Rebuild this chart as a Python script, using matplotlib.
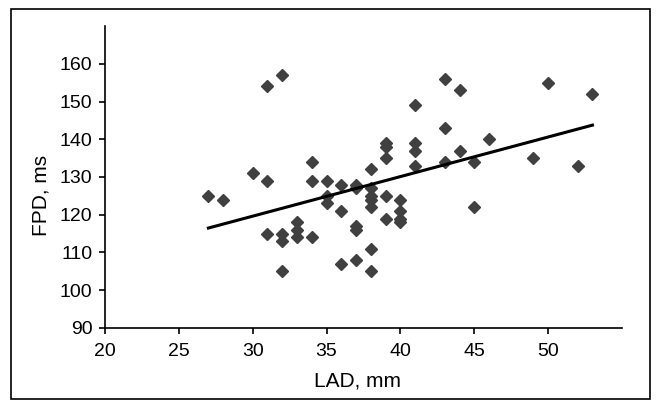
import numpy as np
import matplotlib.pyplot as plt
from matplotlib.patches import Rectangle

plt.rcParams['font.family'] = ['Liberation Sans', 'DejaVu Sans']

# LAD (mm) and FPD (ms)
lad = [27, 28, 30, 31, 31, 31, 32, 32, 32, 32, 33, 33, 33, 34, 34, 34,
       35, 35, 35, 36, 36, 36, 37, 37, 37, 37, 37, 38, 38, 38, 38, 38,
       38, 38, 39, 39, 39, 39, 39, 40, 40, 40, 40, 41, 41, 41, 41, 43,
       43, 43, 44, 44, 45, 45, 46, 49, 50, 52, 53]
fpd = [125, 124, 131, 154, 129, 115, 157, 115, 113, 105, 118, 116, 114, 134, 129, 114,
       129, 125, 123, 128, 121, 107, 128, 127, 117, 116, 108, 132, 127, 125, 124, 122,
       111, 105, 139, 138, 135, 125, 119, 124, 121, 119, 118, 149, 139, 137, 133, 156,
       143, 134, 153, 137, 134, 122, 140, 135, 155, 133, 152]

xticks = [20, 25, 30, 35, 40, 45, 50]
yticks = [90, 100, 110, 120, 130, 140, 150, 160]

lad = np.array(lad)
fpd = np.array(fpd)

fig = plt.figure(figsize=(6.58, 4.0), dpi=100)
ax = fig.add_axes([105/658, 1 - 328/400, 517/658, 302/400])

ax.plot(lad, fpd, ls='none', marker='D', ms=6.5, color='#404040', mec='#404040')

# linear trend line
slope, icpt = np.polyfit(lad, fpd, 1)
xx = np.array([lad.min(), lad.max()])
ax.plot(xx, icpt + slope*xx, color='black', lw=2.2)

ax.set_xlim(20, 55)
ax.set_ylim(90, 170)
ax.set_xticks(xticks)
ax.set_yticks(yticks)
for s in ['top', 'right']:
    ax.spines[s].set_visible(False)
for s in ['left', 'bottom']:
    ax.spines[s].set_linewidth(1.2)
ax.tick_params(direction='out', length=4, width=1.2, labelsize=14)
ax.tick_params(axis='x', pad=7)
ax.tick_params(axis='y', pad=5)

fig.text(358/658, 1 - 381/400, 'LAD, mm', ha='center', va='center', fontsize=15)
fig.text(41/658, 1 - 195/400, 'FPD, ms', ha='center', va='center',
         rotation=90, fontsize=15)

# outer frame
fig.patches.append(Rectangle((10.5/658, 1/400), 639.5/658, 390/400,
                             transform=fig.transFigure, fill=False,
                             ec='black', lw=1.2))

fig.savefig('out.png', dpi=100)
